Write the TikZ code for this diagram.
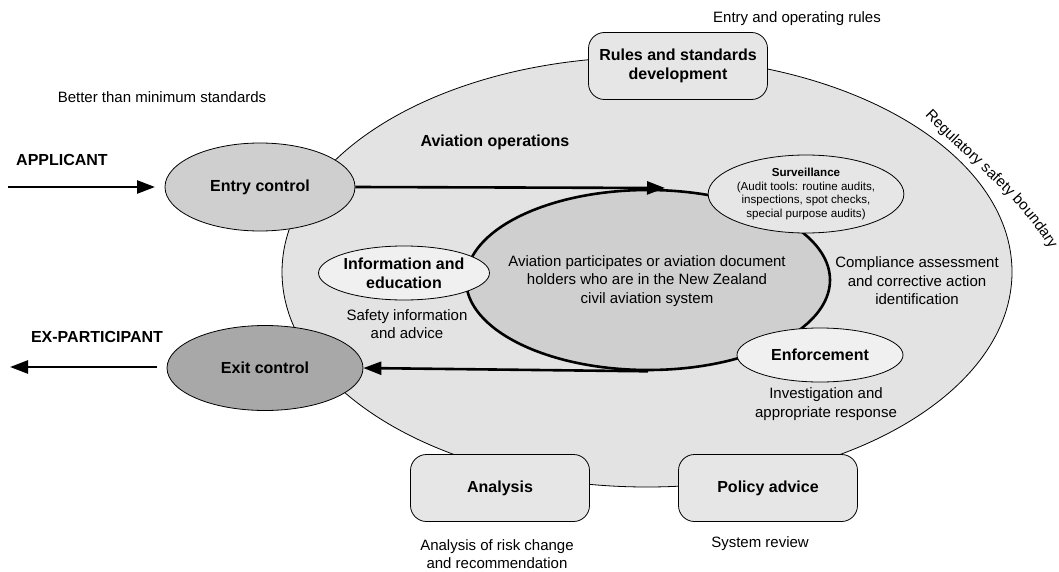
\documentclass[tikz,border=0pt]{standalone}
\usepackage{fontspec}
\setmainfont{Liberation Sans}
\usetikzlibrary{shapes.geometric,arrows.meta,decorations.text}
\definecolor{outerfill}{HTML}{E3E3E3}
\definecolor{innerfill}{HTML}{CFCFCF}
\definecolor{exitfill}{HTML}{A8A8A8}
\definecolor{lightfill}{HTML}{F0F0F0}
\definecolor{boxfill}{HTML}{E6E6E6}
\tikzset{
  txt/.style={font=\fontsize{15}{18.5}\selectfont, align=center, inner sep=0pt},
  btxt/.style={font=\fontsize{16}{19}\selectfont\bfseries, align=center, inner sep=0pt},
  oval/.style={ellipse, draw=black, line width=0.8pt, inner sep=0pt},
  rbox/.style={rectangle, rounded corners=16pt, draw=black, line width=0.8pt, fill=boxfill,
    minimum width=179pt, minimum height=67pt, align=center,
    font=\fontsize{16}{19}\selectfont\bfseries},
  flow/.style={line width=2.6pt, -{Triangle[length=18pt,width=13pt]}},
}
\begin{document}
\begin{tikzpicture}[x=1pt,y=-1pt]
\useasboundingbox (0,0) rectangle (1059,572);
% outer boundary
\node[oval, fill=outerfill, minimum width=730pt, minimum height=430pt] (outer) at (647,272) {};
% boxes on the boundary
\node[rbox] (rules) at (678,66) {Rules and standards\\development};
\node[rbox] (analysis) at (500,488) {Analysis};
\node[rbox] (policy) at (768,488) {Policy advice};
% inner system
\node[ellipse, draw=black, line width=2.6pt, fill=innerfill, minimum width=364pt, minimum height=180pt] (inner) at (648,280) {};
\node[txt] (sys) at (647,281) {Aviation participates or aviation document\\holders who are in the New Zealand\\civil aviation system};
% entry / exit
\node[oval, fill=innerfill, minimum width=190pt, minimum height=88pt, btxt] (entry) at (260,187) {Entry control};
\node[oval, fill=exitfill, minimum width=196pt, minimum height=85pt, btxt] (exit) at (265,368) {Exit control};
\coordinate (survin) at (665,188);
\draw[flow] (entry.east) -- (survin);
\draw[flow] (inner.south) -- (exit.east);
\coordinate (appstart) at (8,187);
\coordinate (append) at (155,187);
\draw[flow] (appstart) -- (append);
\coordinate (exstart) at (157,367);
\coordinate (exend) at (10,367);
\draw[flow] (exstart) -- (exend);
% function ellipses
\node[oval, fill=lightfill, minimum width=166pt, minimum height=54pt, btxt] (info) at (404,273) {Information and\\education};
\node[oval, fill=boxfill, minimum width=166pt, minimum height=78pt, align=center,
  font=\fontsize{11.6}{13.6}\selectfont] (surv) at (806,194) {\textbf{Surveillance}\\(Audit tools: routine audits,\\inspections, spot checks,\\special purpose audits)};
\node[oval, fill=lightfill, minimum width=166pt, minimum height=54pt, btxt] (enf) at (820,355) {Enforcement};
% labels
\node[btxt] (app) at (62,160) {APPLICANT};
\node[btxt] (expart) at (97,337) {EX-PARTICIPANT};
\node[txt] (better) at (162,97) {Better than minimum standards};
\node[txt] (entryrules) at (797,19) {Entry and operating rules};
\node[btxt] (avops) at (495,142) {Aviation operations};
\node[txt] (safety) at (407,324) {Safety information\\and advice};
\node[txt] (comp) at (917,281) {Compliance assessment\\and corrective action\\identification};
\node[txt] (invest) at (826,404) {Investigation and\\appropriate response};
\node[txt] (anal) at (497,554) {Analysis of risk change\\and recommendation};
\node[txt] (sysrev) at (760,544) {System review};
% curved label along the boundary
\coordinate (regA) at (926,117);
\coordinate (regB) at (1049,248);
\path[decorate, decoration={text along path, text align=center,
  text={|\fontsize{15}{15}\selectfont|Regulatory safety boundary}}]
  (regA) .. controls (970,163) and (1020,198) .. (regB);
\end{tikzpicture}
\end{document}
